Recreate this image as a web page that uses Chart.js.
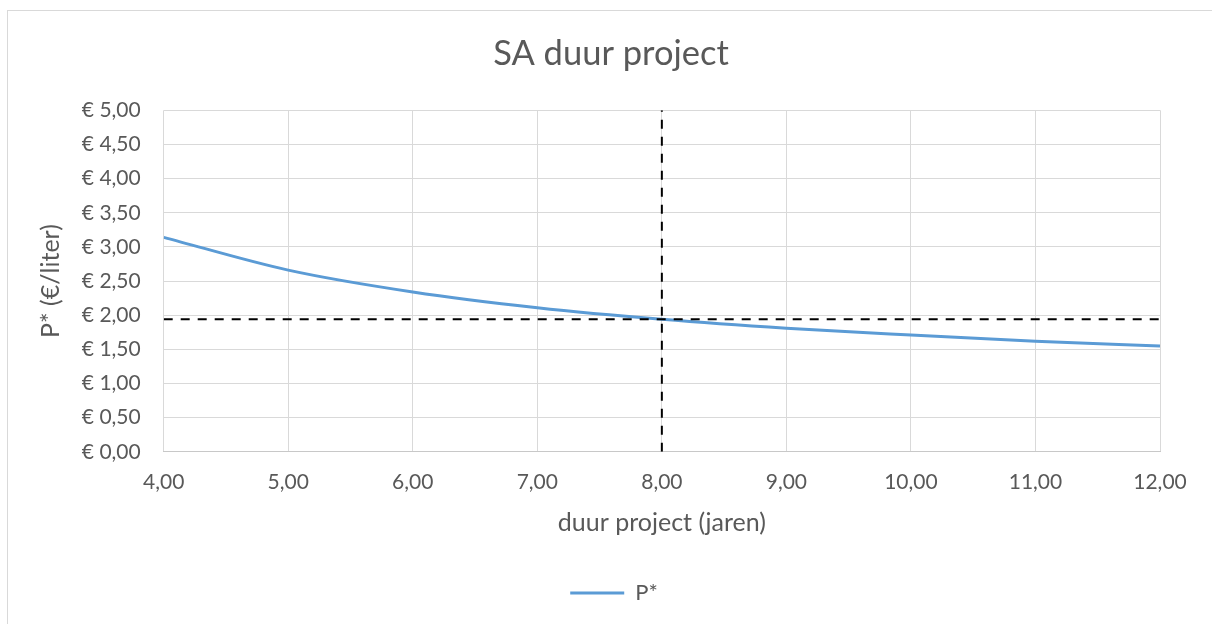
<!DOCTYPE html>
<html>
<head>
<meta charset="utf-8">
<script src="https://cdn.jsdelivr.net/npm/chart.js@4.4.1/dist/chart.umd.min.js"></script>
<style>
  html, body { margin: 0; padding: 0; background: #ffffff; overflow: hidden; }
  #wrap { position: relative; width: 1212px; height: 624px; }
  #frame { position: absolute; left: 7px; top: 10px; width: 1300px; height: 700px;
           border: 1px solid #d9d9d9; box-sizing: border-box; pointer-events: none; }
  canvas { position: absolute; left: 0; top: 0; }
</style>
</head>
<body>
<div id="wrap">
  <canvas id="chart" width="1212" height="624"></canvas>
  <div id="frame"></div>
</div>
<script>
// Project duration (years) and break-even price P* (€/liter)
const durationYears = [4, 5, 6, 7, 8, 9, 10, 11, 12];
const priceP = [3.14, 2.66, 2.34, 2.11, 1.94, 1.81, 1.71, 1.62, 1.55];

// Base case marked by dashed reference lines
const baseYear = 8;
const basePrice = 1.94;

// Axis ranges
const xRange = [4, 12];
const yRange = [0, 5];

const TEXT = '#595959';
const FONT = 'Lato, "Open Sans", "Liberation Sans", sans-serif';

const nl = v => v.toFixed(2).replace('.', ',');

const curve = durationYears.map((x, i) => ({ x: x, y: priceP[i] }));
const hLine = [{ x: xRange[0], y: basePrice }, { x: xRange[1], y: basePrice }];
const vLine = [{ x: baseYear, y: yRange[0] }, { x: baseYear, y: yRange[1] }];

// Center title and legend on the whole frame rather than on the padded area
const recenterBlocks = {
  id: 'recenterBlocks',
  afterLayout(chart) {
    if (chart.titleBlock) { chart.titleBlock.left = 0; chart.titleBlock.right = 1222; }
    if (chart.legend) { chart.legend.left = 0; chart.legend.right = 1228; }
  }
};

new Chart(document.getElementById('chart'), {
  type: 'scatter',
  plugins: [recenterBlocks],
  data: {
    datasets: [
      {
        label: 'P*',
        data: curve,
        showLine: true,
        borderColor: '#5B9BD5',
        backgroundColor: '#5B9BD5',
        borderWidth: 3,
        pointRadius: 0,
        cubicInterpolationMode: 'monotone',
        order: 2
      },
      {
        label: 'base-h',
        data: hLine,
        showLine: true,
        borderColor: '#000000',
        borderWidth: 2,
        borderDash: [9, 8],
        pointRadius: 0,
        order: 1
      },
      {
        label: 'base-v',
        data: vLine,
        showLine: true,
        borderColor: '#000000',
        borderWidth: 2,
        borderDash: [9, 8],
        pointRadius: 0,
        order: 1
      }
    ]
  },
  options: {
    responsive: false,
    animation: false,
    layout: { padding: { left: 0, right: 52, top: 0, bottom: 10 } },
    plugins: {
      title: {
        display: true,
        text: 'SA duur project',
        color: TEXT,
        font: { family: FONT, size: 34.5, weight: 'normal' },
        padding: { top: 33, bottom: 35.9 }
      },
      legend: {
        display: true,
        position: 'bottom',
        labels: {
          color: TEXT,
          font: { family: FONT, size: 22 },
          padding: 10,
          boxWidth: 54,
          boxHeight: 3,
          filter: item => item.text === 'P*',
          generateLabels: chart => {
            const items = Chart.defaults.plugins.legend.labels.generateLabels(chart);
            items.forEach(it => { it.lineWidth = 0; it.fillStyle = '#5B9BD5'; });
            return items;
          }
        }
      },
      tooltip: { enabled: false }
    },
    scales: {
      x: {
        type: 'linear',
        min: xRange[0],
        max: xRange[1],
        ticks: {
          stepSize: 1,
          color: TEXT,
          font: { family: FONT, size: 21 },
          padding: 18,
          maxRotation: 0,
          callback: v => nl(v)
        },
        grid: { color: '#d9d9d9', lineWidth: 1, drawTicks: false },
        border: { color: '#c8c8c8', width: 1 },
        title: {
          display: true,
          text: 'duur project (jaren)',
          color: TEXT,
          font: { family: FONT, size: 25 },
          padding: { top: 0, bottom: 34 }
        },
        afterFit: s => { s.height = 120.2; }
      },
      y: {
        type: 'linear',
        min: yRange[0],
        max: yRange[1],
        ticks: {
          stepSize: 0.5,
          color: TEXT,
          font: { family: FONT, size: 21 },
          padding: 23,
          callback: v => '€ ' + nl(v)
        },
        grid: { color: '#d9d9d9', lineWidth: 1, drawTicks: false },
        border: { display: false },
        title: {
          display: true,
          text: 'P* (€/liter)',
          color: TEXT,
          font: { family: FONT, size: 25 },
          padding: { top: 36, bottom: 0 }
        },
        afterFit: s => { s.width = 163.7; }
      }
    }
  }
});
</script>
</body>
</html>
